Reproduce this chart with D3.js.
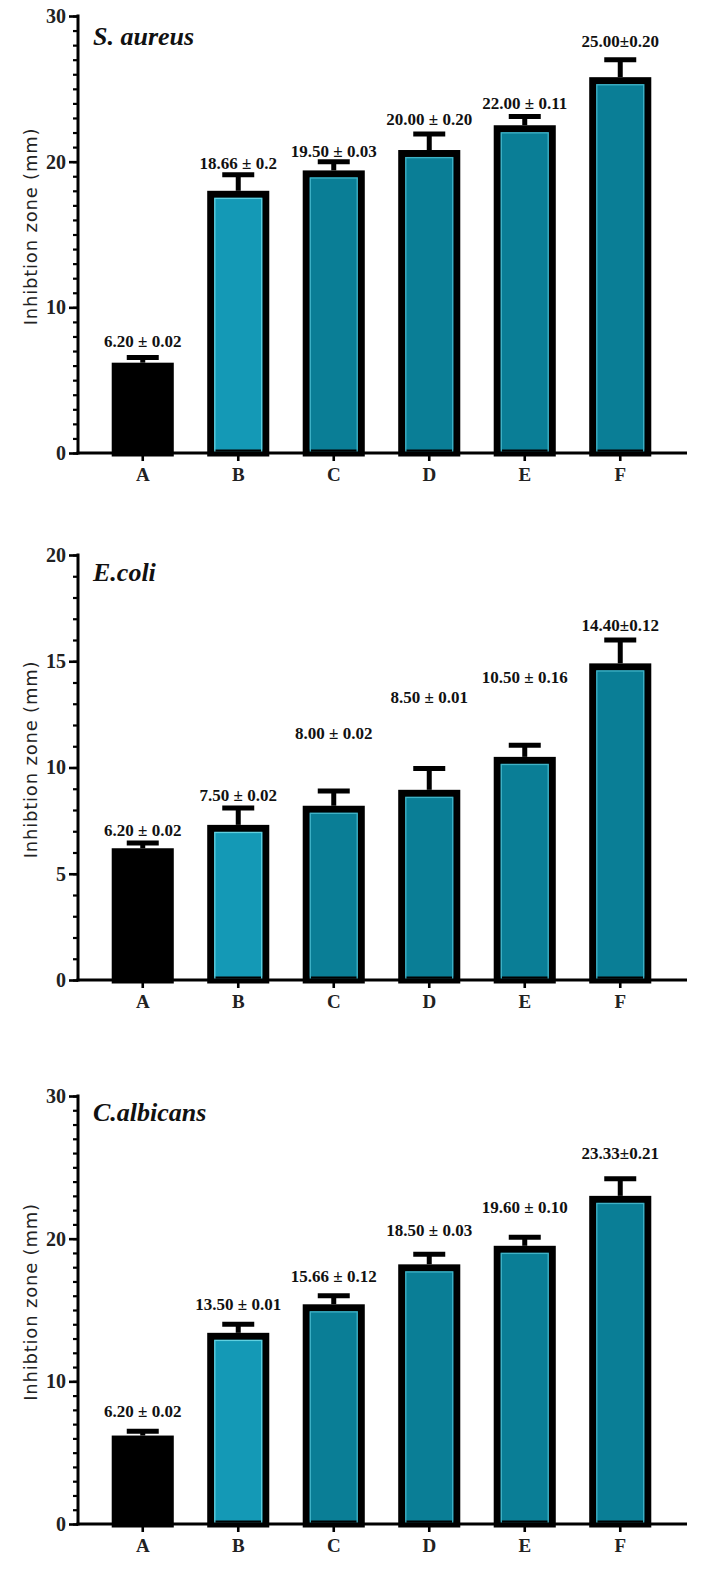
<!DOCTYPE html>
<html>
<head>
<meta charset="utf-8">
<script src="https://cdn.jsdelivr.net/npm/d3@7"></script>
<style>
  html, body { margin: 0; padding: 0; background: #fff; }
  svg { display: block; }
</style>
</head>
<body>
<div id="chart"></div>
<script>
// ---- data ----
const categories = ["A", "B", "C", "D", "E", "F"];

const aureusTitle = "S. aureus";
const aureusTicks = [0, 10, 20, 30];
const aureusValues = [6.2, 18.0, 19.4, 20.8, 22.5, 25.8];
const aureusErrors = [0.35, 1.1, 0.6, 1.1, 0.6, 1.2];
const aureusLabels = ["6.20 ± 0.02", "18.66 ± 0.2", "19.50 ± 0.03", "20.00 ± 0.20", "22.00 ± 0.11", "25.00±0.20"];
const aureusLabelAt = [7.7, 19.9, 20.7, 22.9, 24.0, 28.3];

const ecoliTitle = "E.coli";
const ecoliTicks = [0, 5, 10, 15, 20];
const ecoliValues = [6.2, 7.3, 8.2, 8.95, 10.5, 14.9];
const ecoliErrors = [0.25, 0.8, 0.7, 1.0, 0.55, 1.1];
const ecoliLabels = ["6.20 ± 0.02", "7.50 ± 0.02", "8.00 ± 0.02", "8.50 ± 0.01", "10.50 ± 0.16", "14.40±0.12"];
const ecoliLabelAt = [7.06, 8.7, 11.6, 13.3, 14.26, 16.7];

const albicansTitle = "C.albicans";
const albicansTicks = [0, 10, 20, 30];
const albicansValues = [6.2, 13.4, 15.4, 18.2, 19.5, 23.0];
const albicansErrors = [0.3, 0.6, 0.6, 0.7, 0.6, 1.2];
const albicansLabels = ["6.20 ± 0.02", "13.50 ± 0.01", "15.66 ± 0.12", "18.50 ± 0.03", "19.60 ± 0.10", "23.33±0.21"];
const albicansLabelAt = [7.9, 15.4, 17.4, 20.6, 22.2, 26.0];

const yAxisTitle = "Inhibtion zone (mm)";
const barFills = ["#000000", "#1499b6", "#0a7e96", "#0a7e96", "#0a7e96", "#0a7e96"];
const innerLines = [null, "#5fd0e0", "#3fb2c6", "#3fb2c6", "#3fb2c6", "#3fb2c6"];

// ---- layout ----
const W = 702, H = 1575;
const svg = d3.select("#chart").append("svg").attr("width", W).attr("height", H);

const axisX = 78, axisRight = 687;
const x = d3.scaleBand().domain(categories).range([95, 668]).paddingInner(0.35).paddingOuter(0.175);

const serif = "'Liberation Serif', 'Times New Roman', serif";
const sans = "'DejaVu Sans', 'Open Sans', sans-serif";

function drawPanel(p) {
  const g = svg.append("g");
  const y = d3.scaleLinear().domain([0, p.max]).range([p.bottom, p.top]);
  const data = categories.map((c, i) => ({c, v: p.values[i], e: p.errors[i], label: p.labels[i], la: p.labelAt[i], fill: barFills[i], inner: innerLines[i]}));
  const sw = 7;
  const bw = x.bandwidth();

  // error bars
  const eb = g.selectAll("g.err").data(data).join("g");
  eb.append("line")
    .attr("x1", d => x(d.c) + bw / 2).attr("x2", d => x(d.c) + bw / 2)
    .attr("y1", d => y(d.v)).attr("y2", d => y(d.v + d.e))
    .attr("stroke", "#000").attr("stroke-width", 5);
  eb.append("line")
    .attr("x1", d => x(d.c) + bw / 2 - 16).attr("x2", d => x(d.c) + bw / 2 + 16)
    .attr("y1", d => y(d.v + d.e)).attr("y2", d => y(d.v + d.e))
    .attr("stroke", "#000").attr("stroke-width", 5);

  // bars
  g.selectAll("rect.bar").data(data).join("rect")
    .attr("x", d => x(d.c) + sw / 2)
    .attr("width", bw - sw)
    .attr("y", d => y(d.v) + sw / 2)
    .attr("height", d => y(0) - y(d.v) - sw / 2)
    .attr("fill", d => d.fill)
    .attr("stroke", "#000").attr("stroke-width", sw);
  g.selectAll("rect.inner").data(data.filter(d => d.inner)).join("rect")
    .attr("x", d => x(d.c) + sw + 0.6)
    .attr("width", bw - 2 * sw - 1.2)
    .attr("y", d => y(d.v) + sw + 0.6)
    .attr("height", d => y(0) - y(d.v) - sw - 1.2)
    .attr("fill", "none")
    .attr("stroke", d => d.inner).attr("stroke-width", 1.3);

  // value labels
  g.selectAll("text.val").data(data).join("text")
    .attr("x", d => x(d.c) + bw / 2)
    .attr("y", d => y(d.la))
    .attr("dy", "0.35em")
    .attr("text-anchor", "middle")
    .attr("font-family", serif).attr("font-weight", "bold").attr("font-size", 17)
    .attr("fill", "#111")
    .text(d => d.label);

  // y axis
  const minor = d3.range(0, p.max + 0.001, p.minorStep);
  const ya = d3.axisLeft(y).tickValues(minor).tickSize(5).tickFormat("");
  const yg = g.append("g").attr("transform", `translate(${axisX},0)`).call(ya);
  yg.select(".domain").remove();
  yg.selectAll(".tick line").attr("stroke", "#000").attr("stroke-width", 2.2);
  const yb = d3.axisLeft(y).tickValues(p.ticks).tickSize(9).tickPadding(3).tickFormat(d3.format("d"));
  const yg2 = g.append("g").attr("transform", `translate(${axisX},0)`).call(yb);
  yg2.select(".domain").remove();
  yg2.selectAll(".tick line").attr("stroke", "#000").attr("stroke-width", 2.6);
  yg2.selectAll(".tick text").attr("font-family", serif).attr("font-weight", "bold").attr("font-size", 20).attr("fill", "#222");
  g.append("line").attr("x1", axisX).attr("x2", axisX).attr("y1", p.top - 1.5).attr("y2", p.bottom + 1.5)
    .attr("stroke", "#000").attr("stroke-width", 3);

  // x axis
  const xa = d3.axisBottom(x).tickSize(8).tickPadding(7);
  const xg = g.append("g").attr("transform", `translate(0,${p.bottom})`).call(xa);
  xg.select(".domain").remove();
  xg.selectAll(".tick line").attr("stroke", "#000").attr("stroke-width", 2.6);
  xg.selectAll(".tick text").attr("font-family", serif).attr("font-weight", "bold").attr("font-size", 19).attr("fill", "#222");
  g.append("line").attr("x1", axisX - 1.5).attr("x2", axisRight).attr("y1", p.bottom).attr("y2", p.bottom)
    .attr("stroke", "#000").attr("stroke-width", 3);

  // title
  g.append("text").attr("x", 93).attr("y", p.top + p.titleOff)
    .attr("font-family", serif).attr("font-weight", "bold").attr("font-style", "italic").attr("font-size", 26)
    .attr("fill", "#111").text(p.title);

  // y axis title
  const cy = (p.top + p.bottom) / 2 - 8;
  g.append("text").attr("transform", `translate(37,${cy}) rotate(-90)`)
    .attr("text-anchor", "middle")
    .attr("font-family", sans).attr("font-size", 18).attr("letter-spacing", 0.8).attr("fill", "#222")
    .text(yAxisTitle);
}

drawPanel({title: aureusTitle, max: 30, ticks: aureusTicks, minorStep: 1, top: 16, bottom: 453, titleOff: 29,
  values: aureusValues, errors: aureusErrors, labels: aureusLabels, labelAt: aureusLabelAt});
drawPanel({title: ecoliTitle, max: 20, ticks: ecoliTicks, minorStep: 1, top: 555, bottom: 980, titleOff: 26,
  values: ecoliValues, errors: ecoliErrors, labels: ecoliLabels, labelAt: ecoliLabelAt});
drawPanel({title: albicansTitle, max: 30, ticks: albicansTicks, minorStep: 1, top: 1096, bottom: 1524, titleOff: 25,
  values: albicansValues, errors: albicansErrors, labels: albicansLabels, labelAt: albicansLabelAt});
</script>
</body>
</html>
